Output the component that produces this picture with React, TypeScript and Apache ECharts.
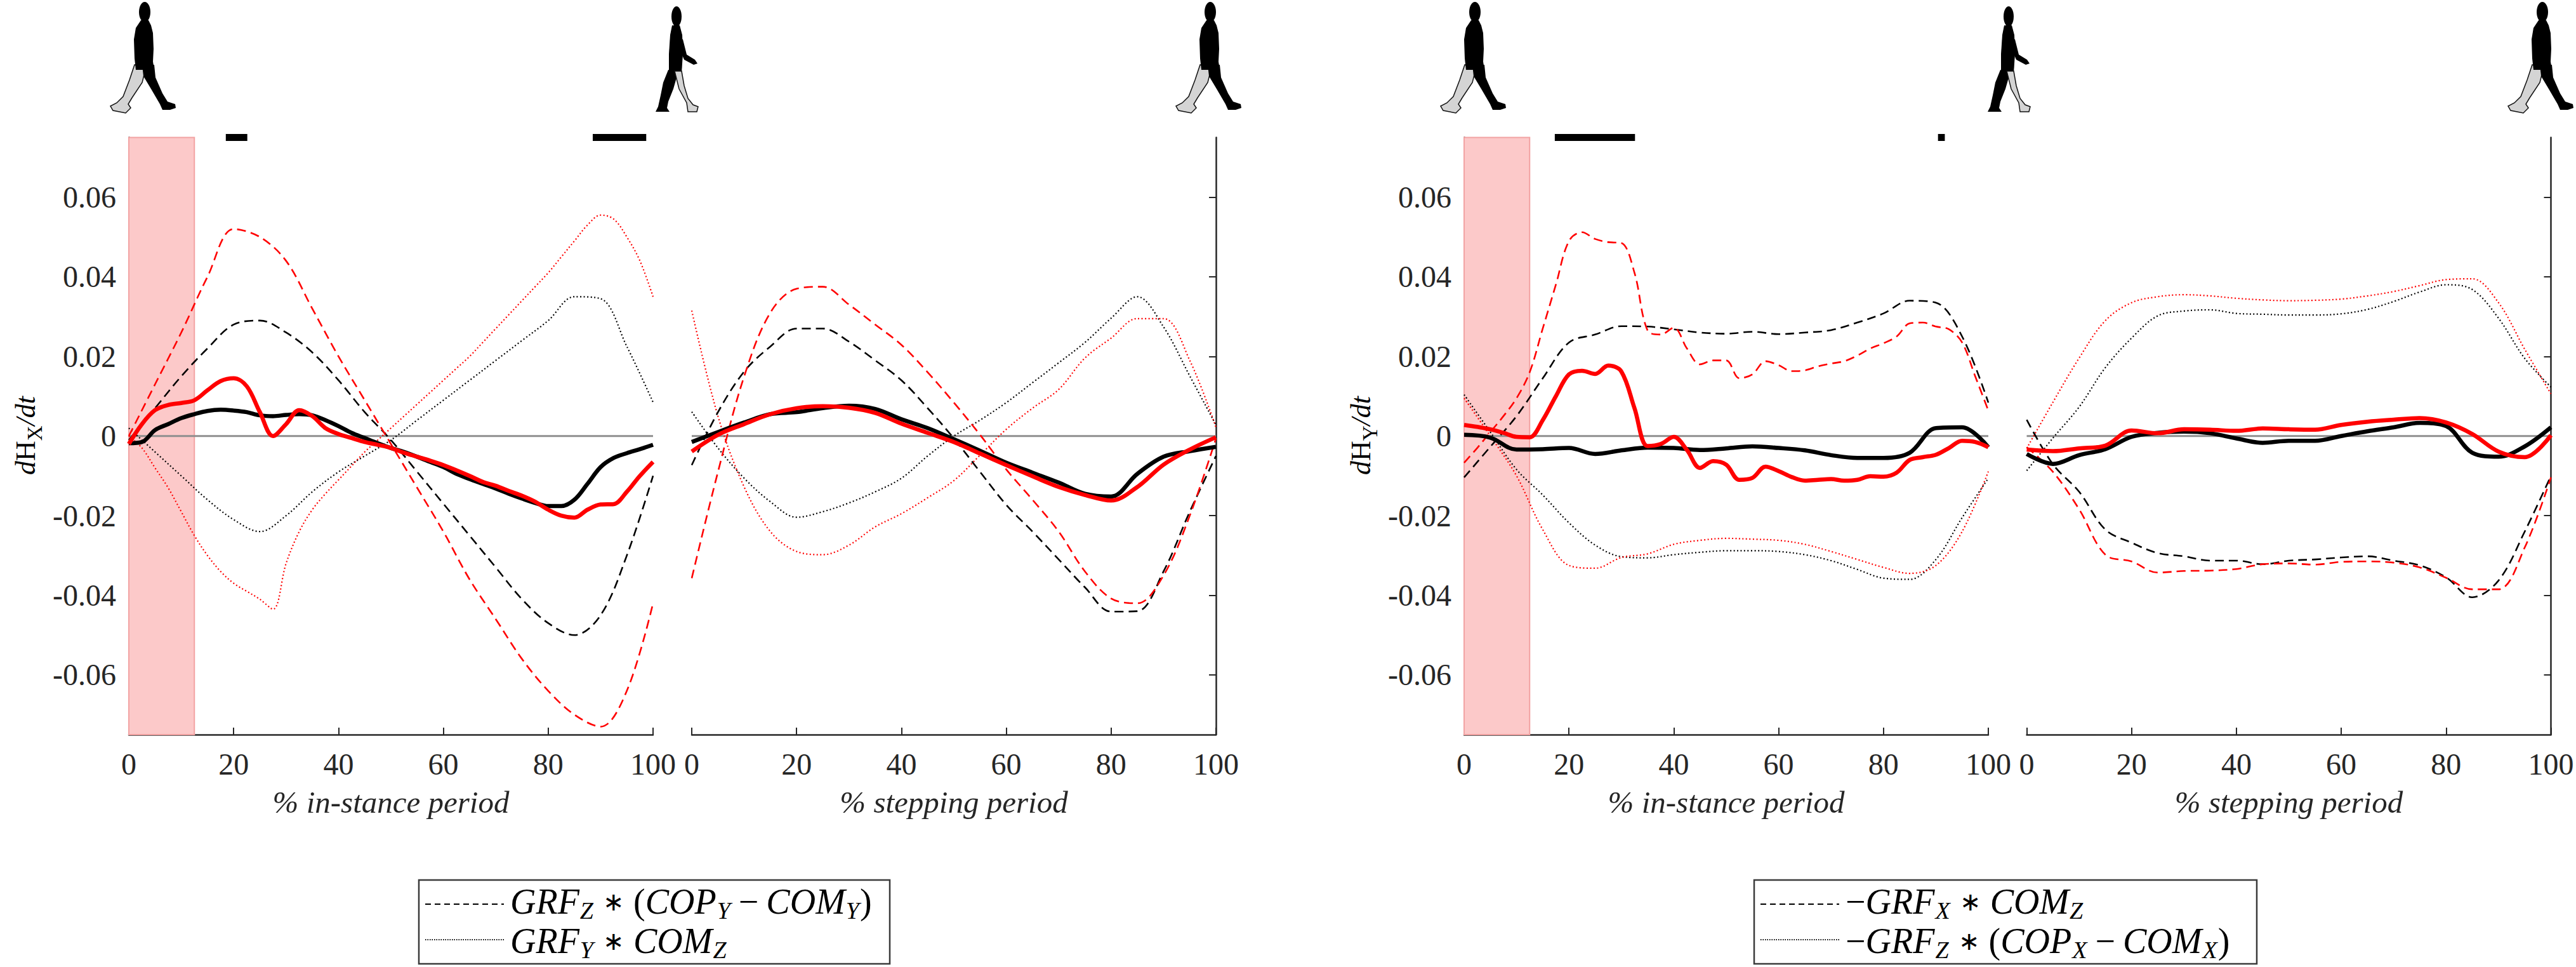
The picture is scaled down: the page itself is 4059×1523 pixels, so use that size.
import React, { useEffect, useRef } from "react";
import * as echarts from "echarts";

// ---------- data ----------
const X5 = [0, 5, 10, 15, 20, 25, 30, 35, 40, 45, 50, 55, 60, 65, 70, 75, 80, 85, 90, 95, 100];
const X25 = [0, 2.5, 5, 7.5, 10, 12.5, 15, 17.5, 20, 22.5, 25, 27.5, 30, 32.5, 35, 37.5, 40, 42.5, 45, 47.5, 50,
  52.5, 55, 57.5, 60, 62.5, 65, 67.5, 70, 72.5, 75, 77.5, 80, 82.5, 85, 87.5, 90, 92.5, 95, 97.5, 100];

const yTicks = [-0.06, -0.04, -0.02, 0, 0.02, 0.04, 0.06];
const yRange = [-0.075, 0.075];
const shadeEnd = 12.5;
const sigLeft = [[18.5, 22.6], [88.5, 98.7]];
const sigRight = [[17.3, 32.6], [90.4, 91.7]];

// Panel 1: dH_X, in-stance
const p1KThick = [-0.0018, -0.0015, 0.0015, 0.003, 0.0045, 0.0055, 0.0063, 0.0066, 0.0064, 0.006, 0.0052, 0.005, 0.0053, 0.0055, 0.0052, 0.004, 0.0025, 0.0008, -0.0005, -0.0018, -0.003, -0.004, -0.0052, -0.0065, -0.0078, -0.0095, -0.0108, -0.012, -0.0132, -0.0145, -0.0157, -0.0168, -0.0176, -0.0176, -0.016, -0.012, -0.0078, -0.0055, -0.0043, -0.0033, -0.0022];
const p1RThick = [-0.002, 0.003, 0.0065, 0.0078, 0.0083, 0.009, 0.0115, 0.0138, 0.0145, 0.0125, 0.006, 0.0, 0.003, 0.0065, 0.005, 0.002, 0.0005, -0.0005, -0.0015, -0.0022, -0.003, -0.0042, -0.0052, -0.0062, -0.0073, -0.0086, -0.01, -0.0115, -0.0125, -0.0138, -0.015, -0.0165, -0.0185, -0.02, -0.0205, -0.0185, -0.0172, -0.0171, -0.014, -0.01, -0.0065];
const p1KDash = [-0.001, 0.007, 0.015, 0.022, 0.028, 0.029, 0.026, 0.021, 0.014, 0.006, -0.001, -0.009, -0.017, -0.025, -0.033, -0.041, -0.047, -0.05, -0.045, -0.03, -0.01];
const p1RDash = [0.0, 0.013, 0.026, 0.04, 0.052, 0.05, 0.044, 0.032, 0.02, 0.009, -0.002, -0.013, -0.024, -0.036, -0.046, -0.056, -0.064, -0.07, -0.073, -0.064, -0.042];
const p1KDot = [0.002, -0.004, -0.01, -0.016, -0.021, -0.024, -0.02, -0.014, -0.009, -0.005, -0.001, 0.004, 0.009, 0.014, 0.019, 0.024, 0.029, 0.035, 0.0345, 0.0225, 0.0085];
const p1RDot = [0.0, -0.003, -0.008, -0.013, -0.019, -0.025, -0.03, -0.034, -0.037, -0.039, -0.041, -0.0435, -0.032, -0.024, -0.0185, -0.0145, -0.011, -0.0075, -0.004, -0.001, 0.002, 0.005, 0.008, 0.011, 0.014, 0.017, 0.02, 0.0235, 0.027, 0.0305, 0.034, 0.0375, 0.041, 0.045, 0.049, 0.053, 0.0555, 0.0545, 0.05, 0.044, 0.035];

// Panel 2: dH_X, stepping
const p2KThick = [-0.0015, 0.001, 0.0034, 0.0055, 0.006, 0.007, 0.0076, 0.0068, 0.0042, 0.002, -0.0008, -0.0037, -0.0067, -0.0092, -0.0117, -0.0145, -0.0152, -0.0095, -0.0052, -0.0038, -0.0027];
const p2RThick = [-0.0039, 0.0003, 0.003, 0.0055, 0.007, 0.0075, 0.0071, 0.0058, 0.0031, 0.0008, -0.0015, -0.0044, -0.0073, -0.0101, -0.0128, -0.0148, -0.0162, -0.0128, -0.0072, -0.0034, -0.0003];
const p2KDash = [-0.0073, 0.006, 0.0162, 0.0225, 0.027, 0.027, 0.0237, 0.019, 0.014, 0.007, -0.0006, -0.009, -0.0173, -0.024, -0.031, -0.038, -0.0441, -0.044, -0.034, -0.019, -0.005];
const p2RDash = [-0.0357, -0.009, 0.015, 0.031, 0.037, 0.0375, 0.033, 0.028, 0.0229, 0.016, 0.0084, 0.0003, -0.0084, -0.016, -0.024, -0.034, -0.0408, -0.042, -0.035, -0.02, -0.0006];
const p2KDot = [0.0061, -0.003, -0.0106, -0.0165, -0.0204, -0.019, -0.0168, -0.014, -0.0106, -0.005, 0.0, 0.004, 0.0084, 0.0134, 0.0184, 0.0235, 0.0296, 0.035, 0.0274, 0.0151, 0.0028];
const p2RDot = [0.0315, 0.005, -0.0128, -0.024, -0.029, -0.0298, -0.0274, -0.0228, -0.0195, -0.0155, -0.0112, -0.0048, 0.0017, 0.007, 0.0117, 0.0196, 0.0246, 0.0295, 0.0295, 0.019, 0.0022];

// Panel 3: dH_Y, in-stance
const p3KThick = [0.0003, -0.0004, -0.0034, -0.0033, -0.003, -0.0045, -0.0036, -0.0029, -0.003, -0.0035, -0.0031, -0.0026, -0.003, -0.0036, -0.0048, -0.0055, -0.0055, -0.0042, 0.002, 0.0022, -0.0028];
const p3RThick = [0.0028, 0.0023, 0.0017, 0.0008, -0.0002, -0.0003, 0.004, 0.01, 0.0155, 0.0164, 0.0156, 0.0177, 0.0162, 0.007, -0.0025, -0.002, -0.0002, -0.0035, -0.008, -0.0063, -0.0072, -0.011, -0.0105, -0.0077, -0.0088, -0.0103, -0.0112, -0.011, -0.0108, -0.0112, -0.011, -0.0101, -0.0102, -0.0092, -0.006, -0.0053, -0.0047, -0.003, -0.0012, -0.0015, -0.0028];
const p3KDash = [-0.0104, -0.0027, 0.005, 0.0145, 0.0235, 0.0255, 0.0276, 0.0275, 0.0268, 0.026, 0.0257, 0.0262, 0.0256, 0.026, 0.0266, 0.0285, 0.0308, 0.034, 0.0335, 0.025, 0.0084];
const p3RDash = [-0.0067, -0.003, 0.001, 0.005, 0.0095, 0.016, 0.027, 0.038, 0.049, 0.0512, 0.0495, 0.0487, 0.0485, 0.041, 0.0265, 0.0255, 0.0272, 0.022, 0.018, 0.019, 0.019, 0.0145, 0.0155, 0.0188, 0.0178, 0.0163, 0.0165, 0.0175, 0.0182, 0.0188, 0.0202, 0.022, 0.0233, 0.025, 0.0283, 0.0285, 0.0275, 0.0268, 0.0235, 0.015, 0.0064];
const p3KDot = [0.0104, 0.001, -0.0084, -0.0148, -0.0218, -0.0274, -0.0303, -0.0306, -0.0298, -0.0292, -0.0288, -0.0288, -0.029, -0.0298, -0.0313, -0.0335, -0.0357, -0.036, -0.031, -0.0205, -0.0106];
const p3RDot = [0.0095, 0.0, -0.01, -0.0235, -0.0325, -0.0332, -0.0305, -0.0296, -0.0272, -0.0262, -0.0257, -0.0259, -0.0262, -0.0272, -0.029, -0.031, -0.033, -0.0345, -0.0325, -0.024, -0.0089];

// Panel 4: dH_Y, stepping
const p4KThick = [-0.0045, -0.007, -0.0048, -0.0033, -0.0002, 0.0008, 0.0011, 0.0007, -0.0006, -0.0017, -0.0012, -0.0012, 0.0, 0.0012, 0.0022, 0.0033, 0.0025, -0.0042, -0.0052, -0.0026, 0.0022];
const p4RThick = [-0.0034, -0.0038, -0.0031, -0.0024, 0.0014, 0.0007, 0.0017, 0.0016, 0.0013, 0.0019, 0.0017, 0.0016, 0.0028, 0.0036, 0.0041, 0.0045, 0.0034, 0.0005, -0.0039, -0.0053, 0.0002];
const p4KDash = [0.0041, -0.0071, -0.014, -0.0235, -0.0268, -0.0294, -0.0302, -0.0313, -0.0313, -0.0322, -0.0313, -0.031, -0.0305, -0.0302, -0.0313, -0.0325, -0.0355, -0.0405, -0.0363, -0.024, -0.01];
const p4RDash = [-0.0028, -0.009, -0.0184, -0.0298, -0.0315, -0.0343, -0.0339, -0.0338, -0.0334, -0.0322, -0.032, -0.0323, -0.0316, -0.0315, -0.0318, -0.033, -0.0356, -0.0385, -0.0385, -0.028, -0.0104];
const p4KDot = [-0.0087, -0.0005, 0.0073, 0.0172, 0.0246, 0.0302, 0.0314, 0.0317, 0.0308, 0.0306, 0.0304, 0.0304, 0.0307, 0.0318, 0.0338, 0.0362, 0.038, 0.0368, 0.0296, 0.0195, 0.0123];
const p4RDot = [-0.0031, 0.0085, 0.0196, 0.029, 0.0335, 0.035, 0.0355, 0.0352, 0.0346, 0.0342, 0.034, 0.0341, 0.0344, 0.0352, 0.0363, 0.0378, 0.0393, 0.0395, 0.0335, 0.0218, 0.0106];

const xNames = ["% in-stance period", "% stepping period", "% in-stance period", "% stepping period"];
const legendLeft = [
  "{i|GRF}{s|Z}{o|∗}{n|(}{i|COP}{s|Y}{m|−}{i|COM}{s|Y}{n|)}",
  "{i|GRF}{s|Y}{o|∗}{i|COM}{s|Z}",
];
const legendRight = [
  "{n|−}{i|GRF}{s|X}{o|∗}{i|COM}{s|Z}",
  "{n|−}{i|GRF}{s|Z}{o|∗}{n|(}{i|COP}{s|X}{m|−}{i|COM}{s|X}{n|)}",
];

// ---------- styles ----------
const FONT = "Liberation Serif";
const AX = "#262626";
const DASH = [14, 8];
const DOT = [2, 3.5];
const GRID_LEFTS = [203, 1090, 2307, 3193.5];
const GRID_TOP = 216.5;
const GRID_W = 826;
const GRID_H = 940.5;

function mkLine(gi: number, xs: number[], ys: number[], color: string, width: number, type: any, z: number) {
  return {
    type: "line",
    xAxisIndex: gi,
    yAxisIndex: gi,
    data: xs.map((x, i) => [x, ys[i]]),
    symbol: "none",
    showSymbol: false,
    smooth: 0.35,
    silent: true,
    z,
    lineStyle: { color, width, type, cap: "butt", join: "round" },
  };
}

function walkerA(x: number, y: number) {
  return {
    type: "group",
    x,
    y,
    silent: true,
    children: [
      { type: "polygon", shape: { points: [[40, 100], [58, 104], [52, 128], [36, 152], [30, 162], [34, 168], [26, 176], [6, 172], [2, 165], [12, 160], [22, 150], [32, 124]] }, style: { fill: "#d4d4d4", stroke: "#111", lineWidth: 1.5 } },
      { type: "polygon", shape: { points: [[50, 30], [62, 30], [66, 38], [69, 50], [70, 75], [69, 95], [71, 108], [42, 108], [40, 90], [39, 60], [42, 42]] }, style: { fill: "#000" } },
      { type: "polygon", shape: { points: [[52, 100], [71, 100], [73, 120], [84, 145], [92, 158], [104, 162], [105, 168], [96, 171], [84, 171], [80, 162], [66, 138], [54, 118]] }, style: { fill: "#000" } },
      { type: "ellipse", shape: { cx: 56, cy: 17, rx: 9, ry: 16 }, style: { fill: "#000" } },
    ],
  };
}

function walkerB(x: number, y: number) {
  return {
    type: "group",
    x,
    y,
    silent: true,
    children: [
      { type: "polygon", shape: { points: [[40, 110], [56, 112], [48, 140], [40, 160], [38, 170], [42, 176], [20, 176], [24, 168], [28, 150], [32, 130]] }, style: { fill: "#000" } },
      { type: "polygon", shape: { points: [[46, 40], [58, 40], [62, 55], [63, 85], [61, 115], [41, 115], [41, 85], [43, 55]] }, style: { fill: "#000" } },
      { type: "polygon", shape: { points: [[58, 60], [63, 62], [69, 86], [82, 94], [86, 100], [80, 102], [65, 94], [59, 80]] }, style: { fill: "#000" } },
      { type: "polygon", shape: { points: [[50, 112], [61, 112], [65, 135], [71, 155], [79, 165], [87, 168], [85, 176], [71, 176], [69, 162], [57, 140]] }, style: { fill: "#d4d4d4", stroke: "#111", lineWidth: 1.5 } },
      { type: "ellipse", shape: { cx: 53, cy: 26, rx: 8, ry: 16 }, style: { fill: "#000" } },
    ],
  };
}

const legendRich = {
  i: { fontFamily: FONT, fontStyle: "italic", fontSize: 56, color: "#000" },
  s: { fontFamily: FONT, fontStyle: "italic", fontSize: 38, color: "#000", padding: [27, 1, 0, 1] },
  n: { fontFamily: FONT, fontSize: 56, color: "#000" },
  o: { fontFamily: FONT, fontSize: 40, color: "#000", padding: [0, 14, 0, 14] },
  m: { fontFamily: FONT, fontSize: 56, color: "#000", padding: [0, 12, 0, 12] },
};

const yLabRich = {
  i: { fontFamily: FONT, fontStyle: "italic", fontSize: 44, color: AX },
  n: { fontFamily: FONT, fontSize: 44, color: AX },
  s: { fontFamily: FONT, fontSize: 33, color: AX, padding: [30, 0, 0, 0] },
};

function legendBox(x: number, w: number, rows: string[], dashFirst: any) {
  const top = 1386;
  const h = 132;
  return [
    { type: "rect", shape: { x, y: top, width: w, height: h }, style: { fill: "#fff", stroke: "#3a3a3a", lineWidth: 2.5 }, z: 10 },
    { type: "line", shape: { x1: x + 10, y1: 1424, x2: x + 134, y2: 1424 }, style: { stroke: "#000", lineWidth: 2, lineDash: dashFirst }, z: 11 },
    { type: "line", shape: { x1: x + 10, y1: 1480, x2: x + 134, y2: 1480 }, style: { stroke: "#000", lineWidth: 2, lineDash: [1.5, 2] }, z: 11 },
    { type: "text", x: x + 144, y: 1420, z: 11, style: { text: rows[0], rich: legendRich, align: "left", verticalAlign: "middle" } },
    { type: "text", x: x + 144, y: 1482, z: 11, style: { text: rows[1], rich: legendRich, align: "left", verticalAlign: "middle" } },
  ];
}

function buildOption() {
  const panels = [
    { k: p1KThick, kx: X25, r: p1RThick, rx: X25, kd: p1KDash, rd: p1RDash, ko: p1KDot, ro: p1RDot, rox: X25 },
    { k: p2KThick, kx: X5, r: p2RThick, rx: X5, kd: p2KDash, rd: p2RDash, ko: p2KDot, ro: p2RDot, rox: X5 },
    { k: p3KThick, kx: X5, r: p3RThick, rx: X25, kd: p3KDash, rd: p3RDash, rdx: X25, ko: p3KDot, ro: p3RDot, rox: X5 },
    { k: p4KThick, kx: X5, r: p4RThick, rx: X5, kd: p4KDash, rd: p4RDash, ko: p4KDot, ro: p4RDot, rox: X5 },
  ];

  const grid = GRID_LEFTS.map((l) => ({ left: l, top: GRID_TOP, width: GRID_W, height: GRID_H, containLabel: false }));

  const xAxis = GRID_LEFTS.map((_, gi) => ({
    type: "value",
    gridIndex: gi,
    min: 0,
    max: 100,
    interval: 20,
    name: xNames[gi],
    nameLocation: "middle",
    nameGap: 82,
    nameTextStyle: { fontFamily: FONT, fontStyle: "italic", fontSize: 49, color: AX },
    axisLine: { show: true, onZero: false, lineStyle: { color: AX, width: 2.5 } },
    axisTick: { show: true, inside: true, length: 11, lineStyle: { color: AX, width: 2 } },
    axisLabel: { show: true, margin: 22, fontFamily: FONT, fontSize: 48, color: AX, showMinLabel: true, showMaxLabel: true, hideOverlap: false },
    splitLine: { show: false },
  }));

  const yAxis = GRID_LEFTS.map((_, gi) => {
    const isLeft = gi % 2 === 0;
    return {
      type: "value",
      gridIndex: gi,
      min: yRange[0],
      max: yRange[1],
      position: isLeft ? "left" : "right",
      axisLine: { show: true, onZero: false, lineStyle: { color: AX, width: 2.5 } },
      axisTick: { show: true, inside: true, length: 11, customValues: yTicks, lineStyle: { color: AX, width: 2 } },
      axisLabel: {
        show: isLeft,
        customValues: yTicks,
        margin: 20,
        fontFamily: FONT,
        fontSize: 48,
        color: AX,
        formatter: (v: number) => (Math.abs(v) < 1e-9 ? "0" : v.toFixed(2)),
      },
      splitLine: { show: false },
    };
  });

  const series: any[] = [];
  panels.forEach((p: any, gi) => {
    const zero: any = {
      type: "line",
      xAxisIndex: gi,
      yAxisIndex: gi,
      data: [[0, 0], [100, 0]],
      symbol: "none",
      silent: true,
      z: 1,
      lineStyle: { color: "#8e8e8e", width: 3 },
    };
    if (gi % 2 === 0) {
      zero.markArea = {
        silent: true,
        itemStyle: { color: "#fcc9c9", borderColor: "#f2a3a3", borderWidth: 2, opacity: 1 },
        data: [[{ xAxis: 0 }, { xAxis: shadeEnd }]],
      };
    }
    series.push(zero);
    series.push(mkLine(gi, X5, p.ko, "#000", 2.2, DOT, 2));
    series.push(mkLine(gi, p.rox, p.ro, "#ff0000", 2.2, DOT, 3));
    series.push(mkLine(gi, X5, p.kd, "#000", 2.6, DASH, 4));
    series.push(mkLine(gi, p.rdx || X5, p.rd, "#ff0000", 2.6, DASH, 5));
    series.push(mkLine(gi, p.kx, p.k, "#000", 6.5, "solid", 6));
    series.push(mkLine(gi, p.rx, p.r, "#ff0000", 6.5, "solid", 7));
  });

  const sigs: [number, number[][]][] = [[0, sigLeft], [2, sigRight]];
  sigs.forEach(([gi, list]) => {
    list.forEach((seg) => {
      series.push({
        type: "line",
        xAxisIndex: gi,
        yAxisIndex: gi,
        data: [[seg[0], yRange[1]], [seg[1], yRange[1]]],
        symbol: "none",
        silent: true,
        clip: false,
        z: 8,
        lineStyle: { color: "#000", width: 11, cap: "butt" },
      });
    });
  });

  const graphic: any[] = [
    walkerA(172, 2),
    walkerB(1013, 0),
    walkerA(1851, 2),
    walkerA(2268, 2),
    walkerB(3112, 0),
    walkerA(3950, 2),
    { type: "text", x: 40, y: 686, rotation: Math.PI / 2, style: { text: "{i|d}{n|H}{s|X}{i|/dt}", rich: yLabRich, align: "center", verticalAlign: "middle" } },
    { type: "text", x: 2144, y: 686, rotation: Math.PI / 2, style: { text: "{i|d}{n|H}{s|Y}{i|/dt}", rich: yLabRich, align: "center", verticalAlign: "middle" } },
    ...legendBox(660, 742, legendLeft, [9, 6]),
    ...legendBox(2764, 792, legendRight, [9, 6]),
  ];

  return {
    animation: false,
    backgroundColor: "#ffffff",
    textStyle: { fontFamily: FONT },
    grid,
    xAxis,
    yAxis,
    series,
    graphic,
  };
}

export default function App() {
  const ref = useRef<HTMLDivElement>(null);
  useEffect(() => {
    if (!ref.current) return;
    const chart = echarts.init(ref.current, undefined, { renderer: "svg" });
    chart.setOption(buildOption() as any);
    return () => chart.dispose();
  }, []);
  return (
    <div
      ref={ref}
      style={{ position: "absolute", left: 0, top: 0, width: 4059, height: 1523, background: "#fff" }}
    />
  );
}
